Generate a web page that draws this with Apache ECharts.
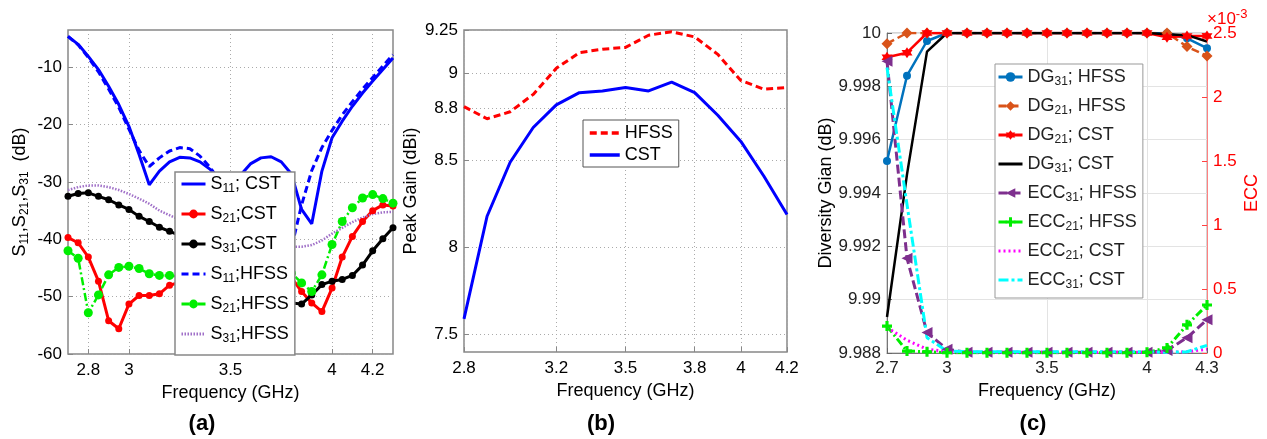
<!DOCTYPE html>
<html>
<head>
<meta charset="utf-8">
<script src="https://cdn.jsdelivr.net/npm/echarts@6/dist/echarts.min.js"></script>
<style>
  html, body { margin: 0; padding: 0; background: #fff; }
  #main { width: 1267px; height: 439px; }
</style>
</head>
<body>
<div id="main"></div>
<script>
// ---- data ----
// (a) S-parameters, 0.05 GHz steps
var freqA = [2.7, 2.75, 2.8, 2.85, 2.9, 2.95, 3, 3.05, 3.1, 3.15, 3.2, 3.25, 3.3, 3.35, 3.4, 3.45, 3.5,
  3.55, 3.6, 3.65, 3.7, 3.75, 3.8, 3.85, 3.9, 3.95, 4, 4.05, 4.1, 4.15, 4.2, 4.25, 4.3];
var s11Cst = [-4.6, -6.0, -8.1, -10.4, -13.3, -16.5, -20.3, -25.2, -30.5, -28.1, -26.5, -25.7, -25.8, -26.5, -27.8, -29.8, -30.4,
  -28.8, -26.8, -25.8, -25.6, -26.5, -28.6, -34.8, -37.3, -28.1, -22.3, -19.4, -16.8, -14.5, -12.4, -10.4, -8.4];
var s21Cst = [-39.7, -40.6, -43.1, -47.3, -54.2, -55.6, -51.3, -49.8, -49.8, -49.5, -48.0, -47.5, -47.0, -46.5, -46.0, -45.8, -45.6,
  -45.5, -45.6, -45.8, -46.0, -46.3, -46.7, -49.1, -51.1, -52.6, -48.5, -43.1, -39.5, -36.9, -35.0, -34.0, -34.2];
var s31Cst = [-32.5, -32.0, -31.9, -32.5, -33.1, -34.0, -34.8, -36.0, -36.9, -37.9, -38.6, -39.3, -40.0, -41.0, -42.0, -43.3, -44.6,
  -46.0, -47.3, -48.6, -49.7, -50.6, -51.1, -51.3, -49.7, -47.9, -47.3, -47.0, -46.3, -44.5, -42.0, -39.9, -38.0];
var s11Hfss = [-4.6, -6.1, -8.3, -10.8, -13.8, -17.0, -20.8, -24.5, -27.3, -25.8, -24.6, -24.0, -24.2, -25.5, -27.5, -30.0, -32.5,
  -35.0, -37.5, -39.5, -41.0, -42.0, -41.5, -34.0, -28.0, -24.0, -21.0, -18.3, -16.0, -13.8, -11.8, -9.8, -7.8];
var s21Hfss = [-42.0, -43.3, -52.8, -49.7, -46.2, -44.9, -44.7, -45.1, -46.0, -46.3, -46.3, -46.5, -46.6, -46.6, -46.5, -46.3, -46.0,
  -45.8, -45.6, -45.5, -45.6, -45.7, -45.9, -47.6, -49.1, -46.2, -40.9, -36.9, -34.5, -32.8, -32.2, -32.9, -33.7];
var s31Hfss = [-31.4, -30.9, -30.6, -30.6, -30.9, -31.4, -32.1, -32.9, -33.8, -35.0, -35.8, -36.6, -37.4, -38.2, -38.9, -39.5, -40.0,
  -40.4, -40.8, -41.0, -41.2, -41.3, -41.3, -41.3, -41.0, -40.2, -39.0, -38.0, -37.0, -36.2, -35.6, -35.3, -35.2];
var ticksAX = [2.8, 3, 3.5, 4, 4.2];
var ticksAY = [-60, -50, -40, -30, -20, -10];

// (b) peak gain, 0.1 GHz steps
var freqB = [2.8, 2.9, 3, 3.1, 3.2, 3.3, 3.4, 3.5, 3.6, 3.7, 3.8, 3.9, 4, 4.1, 4.2];
var gainHfss = [8.81, 8.74, 8.78, 8.88, 9.03, 9.12, 9.14, 9.15, 9.22, 9.24, 9.21, 9.11, 8.96, 8.91, 8.92];
var gainCst = [7.59, 8.18, 8.49, 8.69, 8.82, 8.89, 8.90, 8.92, 8.90, 8.95, 8.89, 8.76, 8.61, 8.41, 8.19];
var ticksBX = [2.8, 3.2, 3.5, 3.8, 4, 4.2];
var ticksBY = [7.5, 8, 8.5, 8.8, 9, 9.25];

// (c) diversity gain (dB) and ECC (x1e-3), 0.1 GHz steps
var freqC = [2.7, 2.8, 2.9, 3, 3.1, 3.2, 3.3, 3.4, 3.5, 3.6, 3.7, 3.8, 3.9, 4, 4.1, 4.2, 4.3];
var dg31Hfss = [9.9952, 9.9984, 9.9997, 10, 10, 10, 10, 10, 10, 10, 10, 10, 10, 10, 9.99999, 9.9998, 9.99943];
var dg21Hfss = [9.9996, 10, 10, 10, 10, 10, 10, 10, 10, 10, 10, 10, 10, 10, 10, 9.99949, 9.99914];
var dg21Cst = [9.99909, 9.99926, 10, 10, 10, 10, 10, 10, 10, 10, 10, 10, 10, 10, 9.99984, 9.99989, 9.99989];
var dg31Cst = [9.98935, 9.9947, 9.9993, 10, 10, 10, 10, 10, 10, 10, 10, 10, 10, 10, 9.99995, 9.99992, 9.99968];
var ecc31Hfss = [2.28, 0.74, 0.16, 0.03, 0.005, 0.005, 0.005, 0.005, 0.005, 0.005, 0.005, 0.005, 0.005, 0.005, 0.02, 0.12, 0.26];
var ecc21Hfss = [0.21, 0.015, 0.01, 0.002, 0.002, 0.002, 0.002, 0.002, 0.002, 0.002, 0.002, 0.002, 0.002, 0.005, 0.04, 0.22, 0.375];
var ecc21Cst = [0.2, 0.1, 0.03, 0.01, 0.005, 0.005, 0.005, 0.005, 0.005, 0.005, 0.005, 0.005, 0.005, 0.005, 0.005, 0.01, 0.03];
var ecc31Cst = [2.23, 1.16, 0.12, 0.015, 0.01, 0.01, 0.01, 0.01, 0.01, 0.01, 0.01, 0.01, 0.01, 0.01, 0.005, 0.01, 0.06];
var ticksCX = [2.7, 3, 3.5, 4, 4.3];

// ---- helpers ----
var FONT = 'Arial, "Liberation Sans", sans-serif';
function pair(xs, ys) { return xs.map(function (x, i) { return [x, ys[i]]; }); }
// "S21;CST" -> "S{s|21};CST"  (first number becomes subscript)
function subFmt(name) { return name.replace(/(\d+)/, '{s|$1}'); }
var subRich = { s: { fontSize: 12, fontFamily: FONT, padding: [10, 0, 0, 0] } };
// legend entries for plain lines: hide the dot the legend puts on them
function legendItems(names, plain) {
  return names.map(function (n) {
    return plain.indexOf(n) >= 0 ? { name: n, itemStyle: { opacity: 0 } } : { name: n };
  });
}

function matAxis(o) {
  var ax = {
    type: 'value', gridIndex: o.grid, min: o.min, max: o.max, position: o.position,
    axisLine: { show: false },
    axisTick: { inside: true, length: 5, lineStyle: { color: '#888' } },
    axisLabel: { fontSize: 17, color: '#000', fontFamily: FONT, margin: o.margin },
    splitLine: { show: true, lineStyle: { color: '#aaa', type: [1, 3], width: 1 } },
    name: o.name, nameLocation: 'middle', nameGap: o.gap,
    nameTextStyle: { fontSize: 18, color: '#000', fontFamily: FONT, rich: subRich }
  };
  if (o.ticks) {
    ax.axisTick.customValues = o.ticks;
    ax.axisLabel.customValues = o.ticks;
  }
  return ax;
}

function line(name, xi, yi, xs, ys, color, width, type, symbol, size) {
  return {
    name: name, type: 'line', xAxisIndex: xi, yAxisIndex: yi, data: pair(xs, ys),
    lineStyle: { color: color, width: width, type: type },
    itemStyle: { color: color },
    symbol: symbol || 'none', symbolSize: size || 0, showSymbol: !!symbol,
    z: 3
  };
}

var starPath = 'path://M0,-10 L2.9,-5 L8.66,-5 L5.8,0 L8.66,5 L2.9,5 L0,10 L-2.9,5 L-8.66,5 L-5.8,0 L-8.66,-5 L-2.9,-5 Z';
var plusPath = 'path://M-2.5,-8 H2.5 V-2.5 H8 V2.5 H2.5 V8 H-2.5 V2.5 H-8 V-2.5 H-2.5 Z';
var leftTri = 'path://M-8,0 L7,-8 L7,8 Z';

var chart = echarts.init(document.getElementById('main'));

var cLeft = matAxis({ grid: 2, min: 9.988, max: 10, margin: 6, name: 'Diversity Gian (dB)', gap: 46 });
cLeft.interval = 0.002;
cLeft.axisTick.lineStyle.color = '#666';
cLeft.axisLine = { show: true, lineStyle: { color: '#777', width: 1 } };
cLeft.splitLine.lineStyle = { color: '#e3e3e3', type: 'solid', width: 1 };
cLeft.axisLabel.color = '#222';

var cRight = {
  type: 'value', gridIndex: 2, min: 0, max: 2.5, interval: 0.5, position: 'right',
  axisLine: { show: true, lineStyle: { color: '#ff8080', width: 1 } },
  axisTick: { inside: true, length: 5, lineStyle: { color: '#ff4040' } },
  axisLabel: { fontSize: 17, color: '#ff0000', fontFamily: FONT, margin: 6 },
  splitLine: { show: false },
  name: 'ECC', nameLocation: 'middle', nameGap: 36,
  nameTextStyle: { fontSize: 18, color: '#ff0000', fontFamily: FONT }
};

var cX = matAxis({ grid: 2, min: 2.7, max: 4.3, margin: 7, name: 'Frequency (GHz)', gap: 24, ticks: ticksCX });
cX.axisLine = { show: true, lineStyle: { color: '#777', width: 1 } };
cX.axisTick.lineStyle.color = '#666';
cX.splitLine.lineStyle = { color: '#e3e3e3', type: 'solid', width: 1 };
cX.axisLabel.color = '#222';

var namesA = ['S11; CST', 'S21;CST', 'S31;CST', 'S11;HFSS', 'S21;HFSS', 'S31;HFSS'];
var namesC = ['DG31; HFSS', 'DG21, HFSS', 'DG21; CST', 'DG31; CST', 'ECC31; HFSS', 'ECC21; HFSS', 'ECC21; CST', 'ECC31; CST'];

var option = {
  animation: false,
  backgroundColor: '#fff',
  textStyle: { fontFamily: FONT },
  grid: [
    { left: 68, top: 30, width: 325, height: 324, show: true, borderColor: '#888', borderWidth: 1.5 },
    { left: 464, top: 30, width: 323, height: 322, show: true, borderColor: '#888', borderWidth: 1.5 },
    { left: 887, top: 33, width: 320, height: 320, show: true, borderColor: '#aaa', borderWidth: 1 }
  ],
  xAxis: [
    matAxis({ grid: 0, min: 2.7, max: 4.3, margin: 8, name: 'Frequency (GHz)', gap: 24, ticks: ticksAX }),
    matAxis({ grid: 1, min: 2.8, max: 4.2, margin: 8, name: 'Frequency (GHz)', gap: 24, ticks: ticksBX }),
    cX
  ],
  yAxis: [
    matAxis({ grid: 0, min: -60, max: -3.5, margin: 6, name: 'S{s|11},S{s|21},S{s|31}  (dB)', gap: 37, ticks: ticksAY }),
    matAxis({ grid: 1, min: 7.4, max: 9.25, margin: 6, name: 'Peak Gain (dBi)', gap: 44, ticks: ticksBY }),
    cLeft,
    cRight
  ],
  legend: [
    {
      data: legendItems(namesA, ['S11; CST', 'S11;HFSS', 'S31;HFSS']),
      left: 175, top: 172, orient: 'vertical', selectedMode: false,
      backgroundColor: '#fff', borderColor: '#888', borderWidth: 1.5,
      padding: [3, 6, 10, 5], itemWidth: 24, itemHeight: 11, itemGap: 10,
      lineStyle: { width: 3 },
      textStyle: { fontSize: 18, color: '#000', fontFamily: FONT, rich: subRich },
      formatter: subFmt
    },
    {
      data: legendItems(['HFSS', 'CST'], ['HFSS', 'CST']),
      left: 583, top: 120, orient: 'vertical', selectedMode: false,
      backgroundColor: '#fff', borderColor: '#555', borderWidth: 1,
      padding: [4, 6, 3, 5], itemWidth: 30, itemHeight: 10, itemGap: 4,
      lineStyle: { width: 3.5 },
      textStyle: { fontSize: 18, color: '#000', fontFamily: FONT }
    },
    {
      data: legendItems(namesC, ['DG31; CST', 'ECC21; CST', 'ECC31; CST']),
      left: 995, top: 64, orient: 'vertical', selectedMode: false,
      backgroundColor: '#fff', borderColor: '#999', borderWidth: 1,
      padding: [4, 6, 7, 2], itemWidth: 24, itemHeight: 12, itemGap: 9,
      lineStyle: { width: 3 },
      textStyle: { fontSize: 18, color: '#222', fontFamily: FONT, rich: subRich },
      formatter: subFmt
    }
  ],
  graphic: [
    { type: 'text', x: 202, y: 424, style: { text: '(a)', font: 'bold 22px ' + FONT, fill: '#000', align: 'center', verticalAlign: 'middle' } },
    { type: 'text', x: 601, y: 424, style: { text: '(b)', font: 'bold 22px ' + FONT, fill: '#000', align: 'center', verticalAlign: 'middle' } },
    { type: 'text', x: 1033, y: 424, style: { text: '(c)', font: 'bold 22px ' + FONT, fill: '#000', align: 'center', verticalAlign: 'middle' } },
    { type: 'text', x: 1207, y: 8, style: {
        text: '×10{p|-3}', fontSize: 17, fontFamily: FONT, fill: '#ff0000',
        rich: { p: { fontSize: 13, fontFamily: FONT, fill: '#ff0000', padding: [0, 0, 10, 0] } } } }
  ],
  series: [
    line('S11; CST', 0, 0, freqA, s11Cst, '#0000ff', 3, 'solid'),
    line('S21;CST', 0, 0, freqA, s21Cst, '#ff0000', 3, 'solid', 'circle', 7),
    line('S31;CST', 0, 0, freqA, s31Cst, '#000000', 3, 'solid', 'circle', 7),
    line('S11;HFSS', 0, 0, freqA, s11Hfss, '#0000ff', 3, [7, 4]),
    line('S21;HFSS', 0, 0, freqA, s21Hfss, '#00ee00', 2.5, [8, 3, 2, 3], 'circle', 9),
    line('S31;HFSS', 0, 0, freqA, s31Hfss, '#a070c8', 2.5, [1.5, 1.5]),

    line('HFSS', 1, 1, freqB, gainHfss, '#ff0000', 3, [7, 4]),
    line('CST', 1, 1, freqB, gainCst, '#0000ff', 3, 'solid'),

    line('DG31; HFSS', 2, 2, freqC, dg31Hfss, '#0072bd', 2.5, 'solid', 'circle', 8),
    line('DG21, HFSS', 2, 2, freqC, dg21Hfss, '#d95319', 2.5, [8, 4], 'diamond', 11),
    line('DG21; CST', 2, 2, freqC, dg21Cst, '#ff0000', 2.5, 'solid', starPath, 11),
    line('DG31; CST', 2, 2, freqC, dg31Cst, '#000000', 2.5, 'solid'),
    line('ECC31; HFSS', 2, 3, freqC, ecc31Hfss, '#7e2f8e', 3, [9, 4], leftTri, 11),
    line('ECC21; HFSS', 2, 3, freqC, ecc21Hfss, '#00ee00', 3, [8, 3, 2, 3], plusPath, 10),
    line('ECC21; CST', 2, 3, freqC, ecc21Cst, '#ff00ff', 3, [2, 3]),
    line('ECC31; CST', 2, 3, freqC, ecc31Cst, '#00ffff', 3, [10, 3, 3, 3])
  ]
};

chart.setOption(option);
window.addEventListener('resize', function () {
  chart.resize();
});
</script>
</body>
</html>
